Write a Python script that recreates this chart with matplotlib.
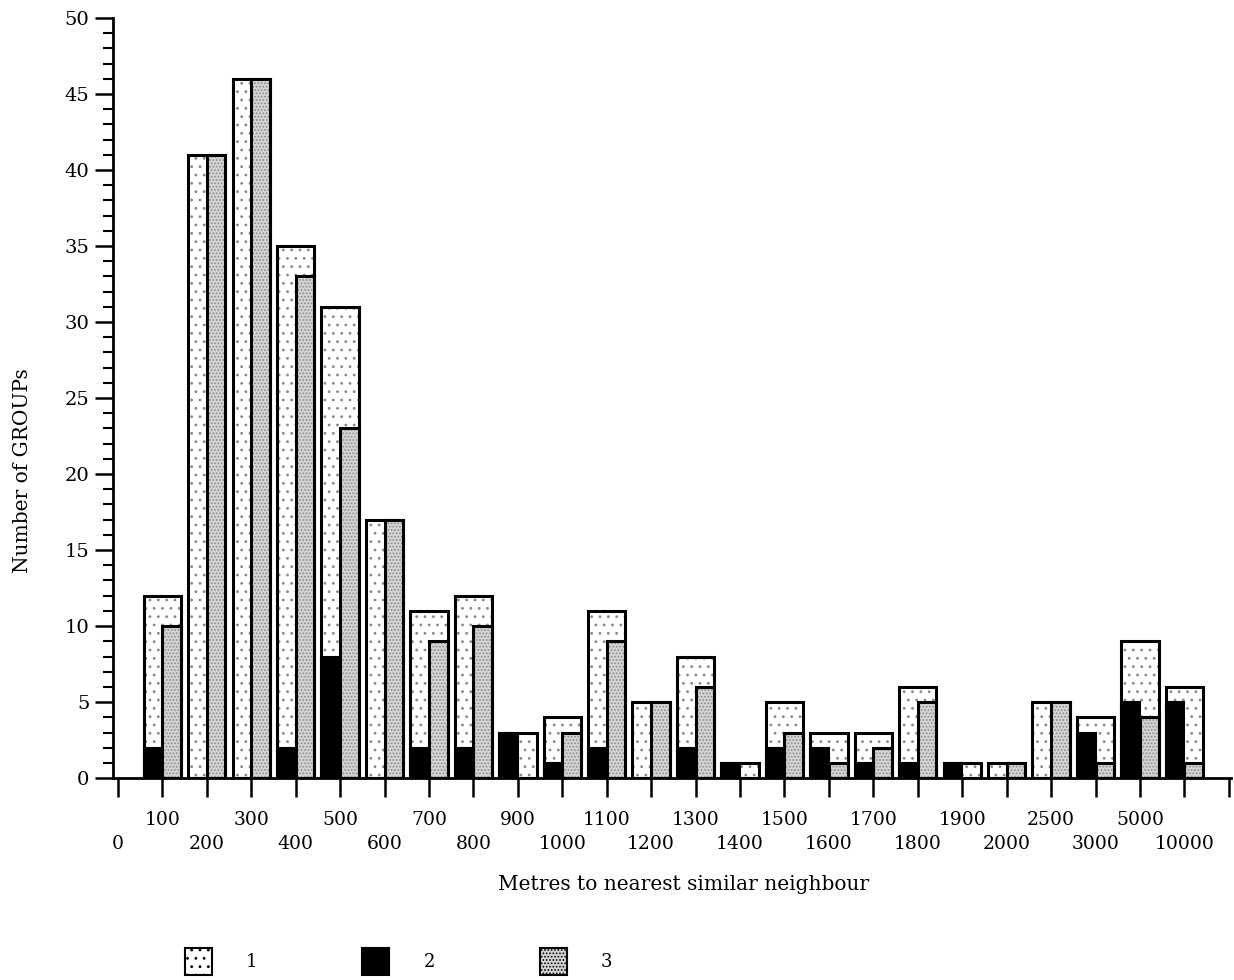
import numpy as np
import matplotlib.pyplot as plt
from matplotlib.patches import Patch

plt.rcParams['font.family'] = ['DejaVu Serif']
plt.rcParams['hatch.linewidth'] = 0.8

categories = ['100', '200', '300', '400', '500', '600', '700', '800', '900', '1000',
              '1100', '1200', '1300', '1400', '1500', '1600', '1700', '1800', '1900',
              '2000', '2500', '3000', '5000', '10000']
series1 = [12, 41, 46, 35, 31, 17, 11, 12, 3, 4, 11, 5, 8, 1, 5, 3, 3, 6, 1, 1, 5, 4, 9, 6]
series2 = [2, 0, 0, 2, 8, 0, 2, 2, 3, 1, 2, 0, 2, 1, 2, 2, 1, 1, 1, 0, 0, 3, 5, 5]
series3 = [10, 41, 46, 33, 23, 17, 9, 10, 0, 3, 9, 5, 6, 0, 3, 1, 2, 5, 0, 1, 5, 1, 4, 1]
legend_labels = ['1', '2', '3']

fig = plt.figure(figsize=(12.34, 9.8), dpi=100)
ax = fig.add_axes([0.0916, 0.206, 0.906, 0.7756])

pos = np.arange(1, len(categories) + 1)
w = 0.84

# series 1: wide dotted bar
ax.bar(pos, series1, w, color='white', edgecolor='#888888', hatch='..', linewidth=0, zorder=1)
ax.bar(pos, series1, w, color='none', edgecolor='black', linewidth=2.2, zorder=2)
# series 2: black, left half
ax.bar(pos - w / 2, series2, w / 2, align='edge', color='black', edgecolor='black',
       linewidth=1.5, zorder=3)
# series 3: grey stipple, right half
ax.bar(pos, series3, w / 2, align='edge', color='#d4d4d4', edgecolor='#8a8a8a',
       hatch='.....', linewidth=0, zorder=3)
ax.bar(pos, series3, w / 2, align='edge', color='none', edgecolor='black',
       linewidth=2.2, zorder=4)

ax.set_xlim(-0.11, 25.05)
ax.set_ylim(0, 50)
for s in ['top', 'right']:
    ax.spines[s].set_visible(False)
ax.spines['left'].set_linewidth(2)
ax.spines['bottom'].set_linewidth(2)

# y ticks
ax.set_yticks(np.arange(0, 51, 5))
ax.set_yticks(np.arange(0, 51, 1), minor=True)
ax.tick_params(axis='y', which='major', length=13, width=1.8, pad=4, labelsize=14)
ax.tick_params(axis='y', which='minor', length=7, width=1.5)

# x ticks: staggered labels
all_labels = ['0'] + categories + ['']
ticks = np.arange(0, len(all_labels))
upper = [t for t in ticks if t % 2 == 1]
lower = [t for t in ticks if t % 2 == 0]
ax.set_xticks(upper)
ax.set_xticklabels([all_labels[t] for t in upper])
ax.set_xticks(lower, minor=True)
ax.set_xticklabels([all_labels[t] for t in lower], minor=True)
ax.tick_params(axis='x', which='major', length=14, width=1.8, pad=10, labelsize=13.5)
ax.tick_params(axis='x', which='minor', length=14, width=1.8, pad=27, labelsize=13.5)

ax.set_xlabel('Metres to nearest similar neighbour', fontsize=14.5)
ax.set_ylabel('Number of GROUPs', fontsize=14.5, va='center')
ax.xaxis.set_label_coords(0.51, -0.128)
ax.yaxis.set_label_coords(-0.081, 0.405)

handles = [
    Patch(facecolor='white', edgecolor='black', hatch='..', linewidth=1.5),
    Patch(facecolor='black', edgecolor='black', linewidth=1.5),
    Patch(facecolor='#d4d4d4', edgecolor='black', hatch='.....', linewidth=1.5),
]
fig.legend(handles, legend_labels, loc='center', bbox_to_anchor=(0.323, 0.019), ncol=3,
           frameon=False, fontsize=13, handlelength=1.5, handleheight=1.9,
           handletextpad=1.9, columnspacing=5.8)

fig.savefig('out.png', dpi=100)
